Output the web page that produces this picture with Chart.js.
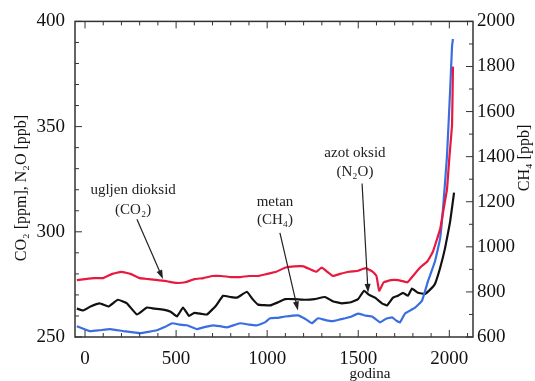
<!DOCTYPE html>
<html>
<head>
<meta charset="utf-8">
<script src="https://cdn.jsdelivr.net/npm/chart.js@4.4.1/dist/chart.umd.min.js"></script>
<style>
  html, body { margin: 0; padding: 0; background: #fff; }
  #wrap { width: 535px; height: 381px; }
</style>
</head>
<body>
<div id="wrap"><canvas id="grafik" width="535" height="381"></canvas></div>
<script>
// CO2 (ppm) - lijeva os
const co2Godine = [-45, 0, 50, 100, 150, 200, 250, 300, 350, 400, 450, 500, 550, 600, 650, 700, 750, 800, 850, 900, 950, 1000, 1050, 1100, 1150, 1200, 1240, 1270, 1300, 1330, 1360, 1400, 1450, 1500, 1540, 1580, 1600, 1615, 1640, 1680, 1720, 1770, 1800, 1840, 1880, 1910, 1950, 1965, 1987, 2000, 2015, 2020];
const co2Vrijednosti = [277, 277.5, 278, 278, 280, 281, 280, 278, 277.5, 277, 276.5, 275.7, 276, 277.5, 278, 279, 279, 278.5, 278.5, 279, 279, 280, 281, 283, 283.6, 283.6, 282, 281, 283, 281, 279, 280, 281, 281.5, 282.7, 281, 279, 272, 276, 277, 277, 276, 279, 283, 286, 290.6, 301.4, 309, 320, 335, 351, 378.5];

// N2O (ppb) - lijeva os
const n2oGodine = [-45, -10, 30, 80, 130, 180, 230, 285, 340, 380, 430, 470, 505, 538, 571, 600, 640, 670, 720, 758, 800, 835, 889, 920, 950, 1016, 1060, 1098, 1150, 1208, 1260, 1318, 1360, 1411, 1460, 1499, 1532, 1560, 1592, 1630, 1658, 1691, 1718, 1746, 1773, 1795, 1828, 1867, 1900, 1921, 1949, 1976, 2004, 2026];
const n2oVrijednosti = [263.5, 262.6, 264.5, 266, 264.5, 267.7, 266, 260.7, 264, 263.5, 263, 262, 259.8, 264, 260, 261.5, 261, 260.7, 265, 269.6, 269, 268.7, 271.5, 268, 265.4, 265, 266.5, 268, 268, 267.7, 268, 269, 267, 266, 266.5, 268, 272, 270, 268.7, 266, 265, 268.7, 269.6, 271, 269.6, 273, 271, 270.5, 273, 275.2, 282.7, 292, 304.6, 318.6];

// CH4 (ppb) - desna os
const ch4Godine = [-45, 27, 80, 137, 220, 302, 395, 440, 478, 520, 560, 615, 660, 703, 740, 780, 851, 900, 944, 988, 1016, 1060, 1098, 1169, 1210, 1246, 1279, 1320, 1356, 1400, 1428, 1460, 1499, 1540, 1576, 1620, 1650, 1686, 1710, 1729, 1757, 1812, 1850, 1883, 1921, 1949, 1965, 1987, 2004, 2015, 2020];
const ch4Vrijednosti = [648, 626, 630, 635, 625, 617, 630, 645, 661, 655, 652, 635, 645, 652, 648, 643, 661, 655, 652, 665, 683, 685, 691, 696, 680, 661, 683, 675, 670, 678, 683, 690, 704, 695, 691, 665, 680, 687, 672, 665, 704, 730, 761, 848, 935, 1035, 1165, 1400, 1687, 1891, 1922];

const xOznake = [0, 500, 1000, 1500, 2000];
const lijeveOznake = [250, 300, 350, 400];
const desneOznake = [600, 800, 1000, 1200, 1400, 1600, 1800, 2000];

// natpisi sa strelicama (x = godina, y = lijeva os)
const natpisi = [
  { redovi: ['ugljen dioksid', '(CO₂)'], x: 264, y: [319.6, 310.5], od: [285, 306], do: [428, 277.6] },
  { redovi: ['metan', '(CH₄)'], x: 1043, y: [314, 305.6], od: [1070, 299.5], do: [1169, 262.6] },
  { redovi: ['azot oksid', '(N₂O)'], x: 1482, y: [337.3, 328.3], od: [1521, 323], do: [1554, 271] }
];

const FONT = '"Liberation Serif", "DejaVu Serif", serif';

const tocke = (g, v) => g.map((x, i) => ({ x: x, y: v[i] }));

const okvir = {
  id: 'okvir',
  afterDraw(chart) {
    const ctx = chart.ctx;
    const a = chart.chartArea;
    const sx = chart.scales.x, yl = chart.scales.yL, yr = chart.scales.yR;
    ctx.save();
    ctx.strokeStyle = '#333';
    ctx.lineWidth = 1.5;
    ctx.strokeRect(a.left, a.top, a.right - a.left, a.bottom - a.top);

    ctx.lineWidth = 1;
    ctx.beginPath();
    for (let v = 250; v <= 400; v += 10) {
      const y = yl.getPixelForValue(v);
      const l = v % 50 === 0 ? 7 : 4;
      ctx.moveTo(a.left, y); ctx.lineTo(a.left + l, y);
    }
    for (let v = 600; v <= 2000; v += 100) {
      const y = yr.getPixelForValue(v);
      const l = v % 200 === 0 ? 7 : 4;
      ctx.moveTo(a.right, y); ctx.lineTo(a.right - l, y);
    }
    for (let v = 0; v <= 2100; v += 100) {
      const x = sx.getPixelForValue(v);
      const l = v % 500 === 0 ? 7 : 4;
      ctx.moveTo(x, a.bottom); ctx.lineTo(x, a.bottom - l);
      ctx.moveTo(x, a.top); ctx.lineTo(x, a.top + l);
    }
    ctx.stroke();

    // natpisi i strelice
    ctx.fillStyle = '#222';
    ctx.strokeStyle = '#222';
    ctx.font = '15px ' + FONT;
    ctx.textAlign = 'center';
    ctx.textBaseline = 'middle';
    natpisi.forEach(n => {
      n.redovi.forEach((t, i) => {
        ctx.fillText(t, sx.getPixelForValue(n.x), yl.getPixelForValue(n.y[i]));
      });
      const x1 = sx.getPixelForValue(n.od[0]), y1 = yl.getPixelForValue(n.od[1]);
      const x2 = sx.getPixelForValue(n.do[0]), y2 = yl.getPixelForValue(n.do[1]);
      const kut = Math.atan2(y2 - y1, x2 - x1);
      ctx.lineWidth = 1.2;
      ctx.beginPath();
      ctx.moveTo(x1, y1);
      ctx.lineTo(x2 - 6 * Math.cos(kut), y2 - 6 * Math.sin(kut));
      ctx.stroke();
      ctx.beginPath();
      ctx.moveTo(x2, y2);
      ctx.lineTo(x2 - 9 * Math.cos(kut) + 3 * Math.sin(kut), y2 - 9 * Math.sin(kut) - 3 * Math.cos(kut));
      ctx.lineTo(x2 - 9 * Math.cos(kut) - 3 * Math.sin(kut), y2 - 9 * Math.sin(kut) + 3 * Math.cos(kut));
      ctx.closePath();
      ctx.fill();
    });

    // naslovi osi
    ctx.font = '16px ' + FONT;
    ctx.fillStyle = '#111';
    ctx.save();
    ctx.translate(22, 188);
    ctx.rotate(-Math.PI / 2);
    ctx.fillText('CO₂ [ppm], N₂O [ppb]', 0, 0);
    ctx.restore();
    ctx.save();
    ctx.translate(525, 158);
    ctx.rotate(-Math.PI / 2);
    ctx.fillText('CH₄ [ppb]', 0, 0);
    ctx.restore();
    ctx.font = '15px ' + FONT;
    ctx.fillText('godina', 370, 374);
    ctx.restore();
  }
};

const postaviOznake = lista => s => { s.ticks = lista.map(v => ({ value: v })); };
const bezZareza = v => String(v);

new Chart(document.getElementById('grafik'), {
  type: 'line',
  data: {
    datasets: [
      { label: 'CO2', data: tocke(co2Godine, co2Vrijednosti), yAxisID: 'yL', borderColor: '#e8193f', order: 1 },
      { label: 'CH4', data: tocke(ch4Godine, ch4Vrijednosti), yAxisID: 'yR', borderColor: '#3a6ee0', order: 2 },
      { label: 'N2O', data: tocke(n2oGodine, n2oVrijednosti), yAxisID: 'yL', borderColor: '#111111', order: 3 }
    ]
  },
  options: {
    responsive: false,
    animation: false,
    devicePixelRatio: 1,
    layout: { padding: { top: 15, left: 0, right: 0, bottom: 0 } },
    elements: {
      line: { borderWidth: 2.2, tension: 0.1 },
      point: { radius: 0 }
    },
    plugins: { legend: { display: false }, tooltip: { enabled: false } },
    scales: {
      x: {
        type: 'linear',
        min: -55, max: 2130,
        grid: { display: false, drawTicks: false },
        border: { display: false },
        afterBuildTicks: postaviOznake(xOznake),
        afterFit: s => { s.height = 44; },
        ticks: { color: '#111', font: { family: FONT, size: 19 }, padding: 11, maxRotation: 0, callback: bezZareza }
      },
      yL: {
        type: 'linear', position: 'left',
        min: 250, max: 400,
        grid: { display: false, drawTicks: false },
        border: { display: false },
        afterBuildTicks: postaviOznake(lijeveOznake),
        afterFit: s => { s.width = 75; },
        ticks: { color: '#111', font: { family: FONT, size: 19 }, padding: 10, callback: bezZareza }
      },
      yR: {
        type: 'linear', position: 'right',
        min: 600, max: 2000,
        grid: { display: false, drawTicks: false },
        border: { display: false },
        afterBuildTicks: postaviOznake(desneOznake),
        afterFit: s => { s.width = 62; },
        ticks: { color: '#111', font: { family: FONT, size: 19 }, padding: 4, callback: bezZareza }
      }
    }
  },
  plugins: [okvir]
});
</script>
</body>
</html>
